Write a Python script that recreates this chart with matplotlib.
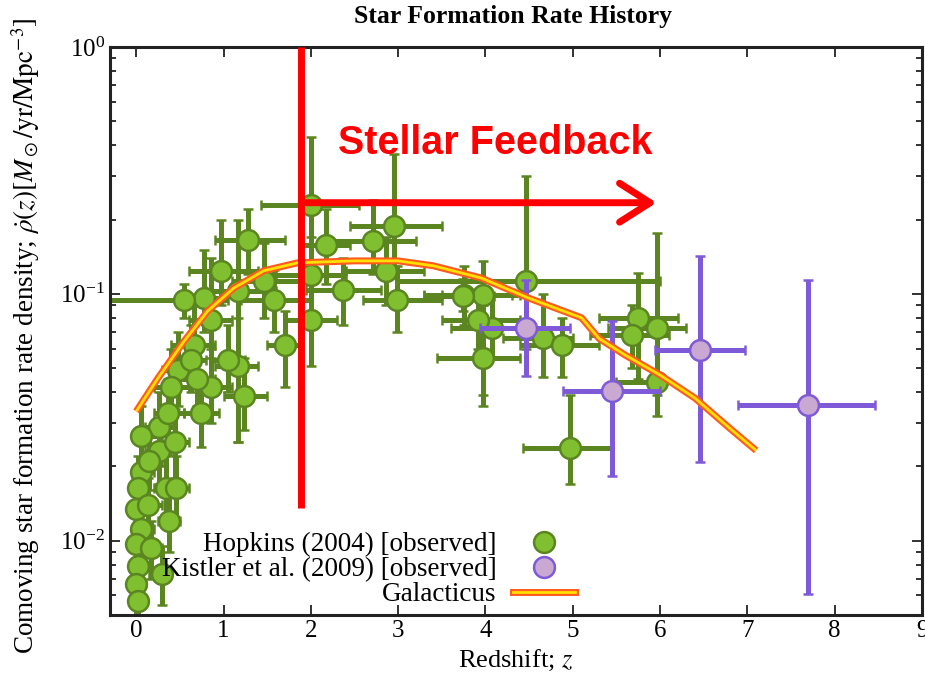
import numpy as np
import matplotlib
matplotlib.use("Agg")
from matplotlib import pyplot as plt
from matplotlib.lines import Line2D

plt.rcParams['font.family'] = ['Liberation Serif', 'DejaVu Serif']
plt.rcParams['mathtext.fontset'] = 'stix'

# Hopkins (2004) compilation: z, sfr density, z range, sfr range
hop_z = [2.00, 2.17, 2.71, 2.95, 2.86, 2.37, 2.00, 2.99, 2.00, 1.58, 1.46, 3.75,
         4.46, 3.97, 3.74, 3.97, 4.08, 3.92, 4.66, 4.88, 5.75, 5.97, 5.68, 5.97, 4.97,
         1.28, 0.97, 1.17, 0.86, 0.66, 1.71, 1.17, 0.48, 0.40, 1.24, 0.86, 0.26, 0.06,
         0.78, 0.55, 0.26, 0.74, 0.37, 0.63, 1.05, 0.06, 0.02, 0.34, 0.00, 0.06, 0.38,
         0.00, 0.17, 0.02, 0.29, 0.00, 0.02, 0.14, 0.46, 0.15, 0.45, 0.70]
hop_sfr = [0.23, 0.157, 0.164, 0.189, 0.124, 0.104, 0.119, 0.0946, 0.078, 0.094, 0.113, 0.099,
           0.113, 0.099, 0.098, 0.055, 0.073, 0.078, 0.066, 0.062, 0.080, 0.073, 0.068, 0.044, 0.0237,
           0.166, 0.124, 0.103, 0.078, 0.062, 0.062, 0.051, 0.049, 0.042, 0.0385, 0.042, 0.029, 0.0265,
           0.096, 0.094, 0.023, 0.033, 0.033, 0.054, 0.054, 0.019, 0.0163, 0.0163, 0.0135, 0.0112, 0.012,
           0.0097, 0.0093, 0.0079, 0.0073, 0.0067, 0.0057, 0.0139, 0.0163, 0.021, 0.025, 0.045]
hop_zlo = [1.43, 1.90, 2.20, 2.45, 2.40, 1.95, 1.60, 2.60, 1.70, 1.20, 1.10, 3.30,
           3.00, 3.50, 3.30, 3.45, 3.60, 3.50, 4.20, 4.40, 5.30, 5.40, 5.20, 5.50, 4.43,
           0.90, 0.60, 0.80, 0.60, 0.40, 1.50, 0.90, 0.30, 0.20, 1.00, 0.60, 0.10, -0.05,
           0.50, -0.30, 0.10, 0.55, 0.20, 0.45, 0.85, -0.05, -0.05, 0.20, -0.08, -0.05, 0.25,
           -0.10, 0.05, -0.05, 0.15, -0.08, -0.05, 0.02, 0.35, 0.05, 0.30, 0.50]
hop_zhi = [2.55, 2.45, 3.20, 3.50, 3.30, 2.80, 2.40, 3.50, 2.30, 2.00, 1.90, 4.30,
           6.00, 4.40, 4.10, 4.40, 4.50, 4.40, 5.00, 5.30, 6.20, 6.30, 6.10, 6.00, 5.46,
           1.70, 1.40, 1.60, 1.10, 0.90, 1.90, 1.40, 0.70, 0.60, 1.50, 1.10, 0.45, 0.25,
           1.00, 1.05, 0.40, 0.95, 0.55, 0.80, 1.25, 0.20, 0.12, 0.50, 0.10, 0.20, 0.50,
           0.10, 0.30, 0.10, 0.40, 0.10, 0.12, 0.30, 0.60, 0.30, 0.60, 0.90]
hop_slo = [0.13, 0.11, 0.12, 0.13, 0.09, 0.075, 0.085, 0.07, 0.051, 0.07, 0.08, 0.075,
           0.06, 0.039, 0.085, 0.035, 0.055, 0.06, 0.046, 0.046, 0.045, 0.039, 0.05, 0.032, 0.017,
           0.12, 0.09, 0.025, 0.055, 0.045, 0.042, 0.025, 0.035, 0.03, 0.028, 0.03, 0.02, 0.02,
           0.07, 0.08, 0.017, 0.024, 0.024, 0.04, 0.04, 0.014, 0.012, 0.012, 0.01, 0.008, 0.009,
           0.007, 0.007, 0.006, 0.0055, 0.005, 0.004, 0.01, 0.012, 0.016, 0.018, 0.035]
hop_shi = [0.43, 0.22, 0.24, 0.37, 0.17, 0.14, 0.17, 0.13, 0.11, 0.125, 0.16, 0.13,
           0.30, 0.136, 0.115, 0.09, 0.10, 0.10, 0.10, 0.08, 0.122, 0.177, 0.09, 0.07, 0.039,
           0.22, 0.20, 0.20, 0.14, 0.09, 0.085, 0.08, 0.07, 0.06, 0.055, 0.06, 0.04, 0.035,
           0.15, 0.11, 0.03, 0.045, 0.045, 0.075, 0.075, 0.025, 0.022, 0.022, 0.018, 0.015, 0.016,
           0.013, 0.012, 0.011, 0.0095, 0.009, 0.0075, 0.018, 0.022, 0.027, 0.034, 0.06]

# Kistler et al. (2009)
kis_z = [4.46, 5.45, 6.46, 7.69]
kis_sfr = [0.0727, 0.0404, 0.0591, 0.0354]
kis_zlo = [3.94, 4.89, 5.94, 6.89]
kis_zhi = [4.97, 6.00, 6.97, 8.46]
kis_slo = [0.0465, 0.0182, 0.0209, 0.0061]
kis_shi = [0.114, 0.0777, 0.1426, 0.114]

# Galacticus model
gal_z = [0.0, 0.25, 0.55, 0.82, 1.12, 1.46, 1.85, 2.5, 3.0, 3.4, 3.95, 4.5,
         5.1, 5.3, 5.6, 6.0, 6.4, 6.8, 7.1]
gal_sfr = [0.0334, 0.0456, 0.0644, 0.0853, 0.1057, 0.124, 0.1336, 0.136, 0.136, 0.130,
           0.116, 0.096, 0.080, 0.066, 0.0565, 0.0469, 0.0378, 0.0285, 0.0232]

fig = plt.figure(figsize=(9.25, 6.75), dpi=100)
ax = fig.add_axes([110/925, 1-615/675, 812/925, 568/675])

def errs(v, lo, hi):
    v = np.array(v); lo = np.array(lo); hi = np.array(hi)
    return np.vstack([v - lo, hi - v])

green_edge = '#5a8520'
green_face = '#80c030'
ax.errorbar(hop_z, hop_sfr, xerr=errs(hop_z, hop_zlo, hop_zhi),
            yerr=errs(hop_sfr, hop_slo, hop_shi), fmt='o', ms=15,
            mfc=green_face, mec=green_edge, mew=1.8, ecolor=green_edge,
            elinewidth=3.6, capsize=3.5, capthick=3.6, zorder=2)

purple_edge = '#7f5ad8'
purple_face = '#c9a9d2'
ax.errorbar(kis_z, kis_sfr, xerr=errs(kis_z, kis_zlo, kis_zhi),
            yerr=errs(kis_sfr, kis_slo, kis_shi), fmt='o', ms=15,
            mfc=purple_face, mec=purple_edge, mew=1.8, ecolor=purple_edge,
            elinewidth=3.6, capsize=3.5, capthick=3.6, zorder=3)

ax.plot(gal_z, gal_sfr, color='#ff5a1e', lw=5, zorder=4, solid_capstyle='butt')
ax.plot(gal_z, gal_sfr, color='#ffe000', lw=2, zorder=5, solid_capstyle='butt')

ax.set_yscale('log')
ax.set_xlim(-0.3, 9)
ax.set_ylim(0.005, 1)
ax.set_xticks(range(10))
ax.tick_params(which='both', direction='in', top=True, right=True, labelsize=18,
               width=1.3, color='#222222')
ax.tick_params(which='major', length=7)
ax.tick_params(which='minor', length=4)
for s in ax.spines.values():
    s.set_linewidth(2.2)
    s.set_color('#222222')

ax.set_xlabel('Redshift; $z$', fontsize=19, labelpad=4)
fig.text(0.555, 1-17/675, 'Star Formation Rate History', ha='center', va='center',
         fontsize=18.5, fontweight='bold')
fig.text(26/925, 1-18/675,
         r'Comoving star formation rate density; $\dot{\rho}(z)[M_\odot/\mathrm{yr}/\mathrm{Mpc}^{-3}]$',
         rotation=90, ha='center', va='top', fontsize=19.5)

h1 = Line2D([], [], ls='none', marker='o', ms=15, mfc=green_face, mec=green_edge, mew=1.8)
h2 = Line2D([], [], ls='none', marker='o', ms=15, mfc=purple_face, mec=purple_edge, mew=1.8)
h3a = Line2D([], [], color='#ff5a1e', lw=5)
h3b = Line2D([], [], color='#ffe000', lw=2)
leg = ax.legend([h1, h2, (h3a, h3b)],
                ['Hopkins (2004) [observed]', 'Kistler et al. (2009) [observed]', 'Galacticus'],
                markerfirst=False, frameon=False, fontsize=19.5, loc='lower right',
                bbox_to_anchor=(575/925, 1-607/675), bbox_transform=fig.transFigure,
                borderaxespad=0, borderpad=0, handlelength=2.3, handletextpad=0.6,
                labelspacing=0.0)

# red annotation
ax.plot([1.89, 1.89], [0.0136, 1.0], color='red', lw=5, zorder=6, solid_capstyle='butt')
ax.annotate('', xy=(5.96, 0.234), xytext=(1.89, 0.234),
            arrowprops=dict(arrowstyle='->,head_length=1.1,head_width=0.7', lw=5,
                            color='red', shrinkA=0, shrinkB=0, mutation_scale=20),
            zorder=6)
ax.text(2.31, 0.41, 'Stellar Feedback', color='red', fontsize=28.5, fontweight='bold',
        family='Liberation Sans', va='center', ha='left', zorder=7)

fig.savefig('out.png', dpi=100)
